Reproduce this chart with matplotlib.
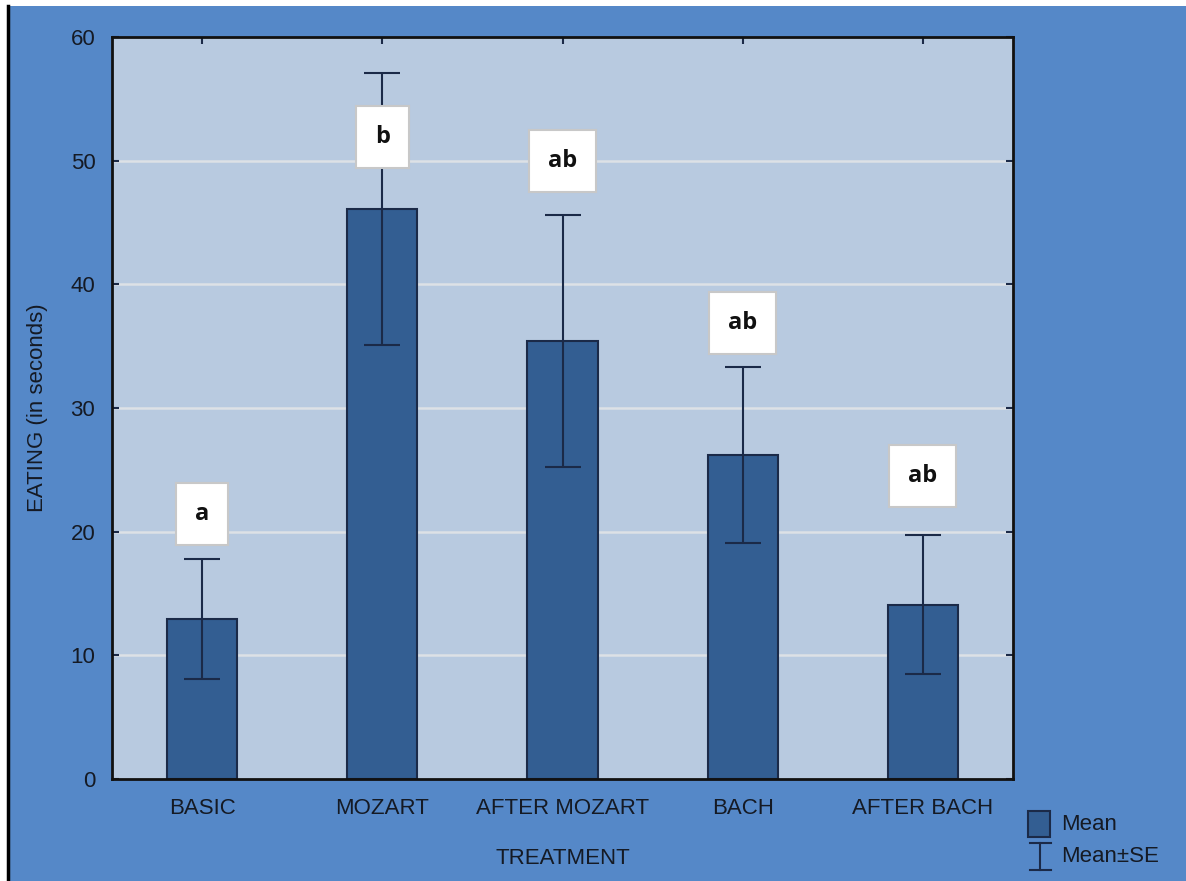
import matplotlib
matplotlib.use('Agg')
import matplotlib.pyplot as plt
from matplotlib.patches import Rectangle
from matplotlib.lines import Line2D

# 数据：各处理的平均进食时间及标准误
treatments = ['BASIC', 'MOZART', 'AFTER MOZART', 'BACH', 'AFTER BACH']
mean_eating = [12.9, 46.1, 35.4, 26.2, 14.1]
se_eating = [4.85, 11.0, 10.2, 7.1, 5.6]
# 多重比较分组字母及其纵向位置
groups = ['a', 'b', 'ab', 'ab', 'ab']
group_y = [21.4, 51.9, 50.0, 36.9, 24.5]
yticks = [0, 10, 20, 30, 40, 50, 60]

outer_blue = '#5588c8'
plot_bg = '#b8cae0'
bar_col = '#335e92'
dark = '#1b2a48'
txt = '#151a24'

plt.rcParams['font.family'] = ['Liberation Sans', 'DejaVu Sans']

fig = plt.figure(figsize=(11.86, 8.81), dpi=100, facecolor='white')
W, H = 1186, 881
# 背景：白边 + 蓝色底 + 左侧黑线
fig.add_artist(Rectangle((9 / W, 0), 1 - 9 / W, 1 - 6 / H, transform=fig.transFigure,
                         facecolor=outer_blue, edgecolor='none', zorder=-10))
fig.add_artist(Line2D([8 / W, 8 / W], [0, 1 - 6 / H], transform=fig.transFigure,
                      color='black', linewidth=2.5, zorder=-5))

ax = fig.add_axes([112 / W, 1 - 779 / H, 901 / W, 742 / H])
ax.set_facecolor(plot_bg)
x = list(range(len(treatments)))

ax.bar(x, mean_eating, width=0.39, color=bar_col, edgecolor=dark, linewidth=1.5, zorder=2)
ax.errorbar(x, mean_eating, yerr=se_eating, fmt='none', ecolor=dark, elinewidth=1.5,
            capsize=13, capthick=1.5, zorder=3)

for xi, g, gy in zip(x, groups, group_y):
    ax.text(xi, gy, g, ha='center', va='center', fontsize=17, fontweight='bold',
            family=['Open Sans', 'DejaVu Sans'], color='#111111', zorder=5,
            bbox=dict(boxstyle='square,pad=0.8', facecolor='white', edgecolor='#c8c8c8', linewidth=1.5))

ax.set_xlim(-0.5, len(treatments) - 0.5)
ax.set_ylim(0, 60)
ax.set_yticks(yticks)
ax.set_xticks(x)
ax.set_xticklabels(treatments)
for yv in yticks[1:-1]:
    ax.axhline(yv, color='#dde1e6', linewidth=1.8, zorder=1)

ax.tick_params(direction='in', length=5, width=1.5, top=True, right=True,
               labelsize=16, colors=dark, labelcolor=txt)
ax.tick_params(axis='y', pad=12)
ax.tick_params(axis='x', pad=14)
for s in ax.spines.values():
    s.set_linewidth(2)
    s.set_color('#111111')

ax.set_ylabel('EATING (in seconds)', fontsize=16, color=txt)
ax.yaxis.set_label_coords(-0.071, 0.5)
ax.set_xlabel('TREATMENT', fontsize=16, color=txt)
ax.xaxis.set_label_coords(0.5, -0.093)

# 图例（手绘）
fig.add_artist(Rectangle((1028 / W, 1 - 837 / H), 22 / W, 26 / H, transform=fig.transFigure,
                         facecolor=bar_col, edgecolor=dark, linewidth=1.5, zorder=3))
fig.text(1061 / W, 1 - 824 / H, 'Mean', fontsize=16, color=txt, va='center')
ex = 1040 / W
fig.add_artist(Line2D([ex, ex], [1 - 870 / H, 1 - 843 / H], transform=fig.transFigure, color=dark, linewidth=1.5))
for yy in (843, 870):
    fig.add_artist(Line2D([1030 / W, 1051 / W], [1 - yy / H, 1 - yy / H], transform=fig.transFigure,
                          color=dark, linewidth=1.5))
fig.text(1061 / W, 1 - 857 / H, 'Mean±SE', fontsize=16, color=txt, va='center')

fig.savefig('out.png', dpi=100, facecolor=fig.get_facecolor())
